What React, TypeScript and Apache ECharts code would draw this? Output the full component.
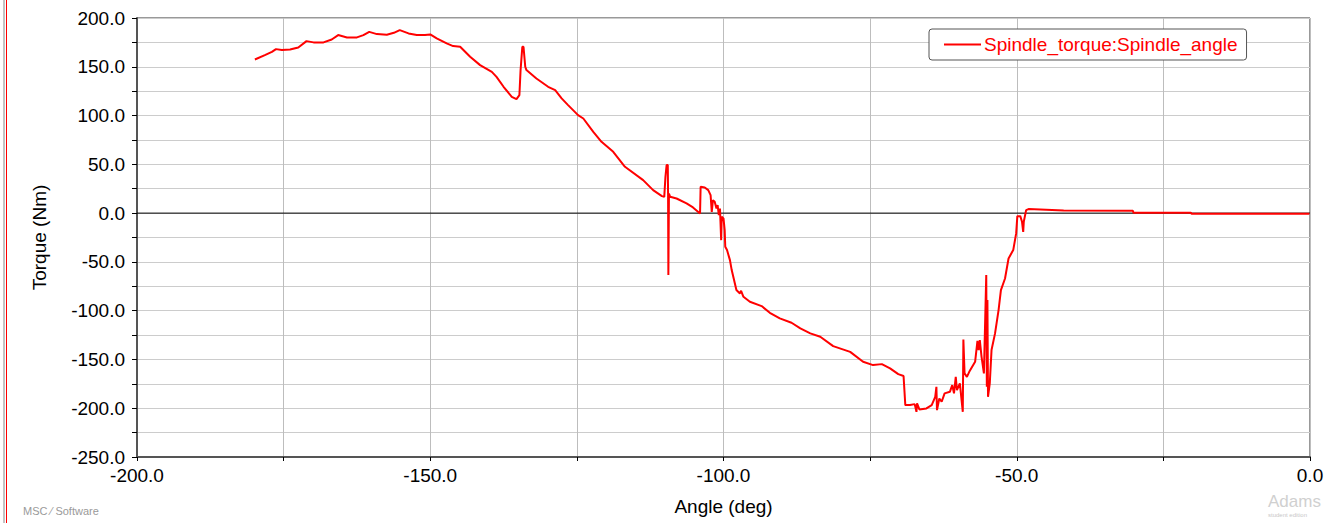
import React, { useEffect, useRef } from "react";
import * as echarts from "echarts";

const seriesName = "Spindle_torque:Spindle_angle";
const xTitle = "Angle (deg)";
const yTitle = "Torque (Nm)";

const angle = [
  -179.9, -178.2, -177.0, -176.3, -175.3, -173.9, -172.5, -171.1, -169.9, -168.2,
  -166.8, -165.7, -164.2, -162.5, -161.4, -160.4, -159.1, -157.4, -156.2, -155.2,
  -153.7, -152.3, -150.9, -150.0, -148.9, -147.2, -146.1, -144.9, -143.2, -141.5,
  -139.5, -138.7, -137.5, -136.1, -135.3, -134.8, -134.6, -134.3, -134.1, -133.8,
  -133.6, -131.9, -129.9, -128.7, -127.6, -126.5, -124.8, -123.9, -122.2, -120.8,
  -118.8, -116.8, -113.7, -112.0, -110.5, -110.1, -109.9, -109.7, -109.5, -109.45,
  -109.4, -109.3, -109.1, -108.0, -106.3, -105.2, -104.0, -103.9, -103.2, -102.6,
  -102.2, -102.0, -101.8, -101.5, -101.2, -101.0, -100.8, -100.6, -100.4, -100.3,
  -100.0, -99.8, -99.7, -99.4, -98.9, -98.6, -97.8, -97.2, -97.0, -96.6,
  -95.5, -93.5, -92.1, -90.4, -88.4, -86.9, -85.2, -83.5, -81.3, -78.4,
  -76.2, -74.5, -73.0, -71.6, -70.2, -69.3, -69.0, -68.2, -67.4, -67.1,
  -67.0, -66.6, -65.4, -64.5, -63.9, -63.7, -63.6, -63.2, -62.8, -62.3,
  -61.4, -61.0, -60.7, -60.4, -60.2, -59.7, -59.2, -59.1, -58.9, -58.5,
  -58.1, -57.1, -56.7, -56.5, -56.3, -56.0, -55.6, -55.2, -55.1, -55.0,
  -54.9, -54.6, -54.3, -53.7, -53.1, -52.7, -52.0, -51.4, -50.6, -50.1,
  -49.9, -49.4, -49.1, -48.9, -48.8, -48.4, -48.0, -45.0, -42.0, -30.2,
  -30.1, -20.3, -20.2, -0.1,
];

const torque = [
  157.5, 162, 165.3, 168.1, 167.1, 167.8, 169.8, 176.3, 175, 175,
  178, 182.5, 180.1, 180.1, 182.5, 185.8, 183.5, 182.8, 184.8, 187.6,
  184.2, 182.5, 182.5, 183.2, 179.1, 174, 171.2, 170.5, 160.2, 151.7,
  144.8, 139.7, 129.5, 119.2, 116.9, 121, 146.6, 170.5, 170.5, 150,
  146.6, 138, 129.5, 126, 117.6, 110.7, 100.4, 97, 83.3, 73.1,
  62.8, 47.5, 33.8, 23.6, 17.4, 16.7, 37.2, 49.2, 49.2, 20,
  -63.5, 20, 16.7, 15, 10, 5.8, -0.3, 27, 26.3, 23.6,
  18.5, 1.3, 13.3, 11.6, 4.8, 8.2, -2, 4.8, -27.7, -3.8,
  -5.4, -17.4, -34.5, -37.9, -48.2, -58.4, -78.9, -82.3, -79.6, -85.8,
  -90.9, -95.3, -102.2, -107.9, -112.4, -118.2, -123.3, -126.8, -136.3, -142.2,
  -152.4, -155.8, -154.8, -159.2, -165, -167, -196.8, -196.8, -195.8, -203.7,
  -195, -201.2, -200.2, -196.8, -188.3, -178, -202, -190, -193.4, -184.8,
  -183.2, -176.3, -184.8, -167.8, -181.4, -174.6, -203.7, -129.5, -164.3, -167.8,
  -162.7, -152.4, -130.9, -140.4, -130.2, -147.3, -164.3, -63.5, -178, -89.2,
  -188.3, -174.6, -140.4, -123.3, -99.4, -78.9, -67, -46.5, -37.9, -20.8,
  -3.1, -3.1, -8.9, -19.2, -8.9, 3.1, 4.1, 3.5, 2.6, 2.4,
  0.3, 0.3, -0.7, -0.7,
];

const xMin = -200;
const xMax = 0;
const yMin = -250;
const yMax = 200;

const FONT = "Liberation Sans, Arial, sans-serif";

export default function App() {
  const ref = useRef<HTMLDivElement>(null);

  useEffect(() => {
    if (!ref.current) return;
    const chart = echarts.init(ref.current, undefined, { renderer: "svg" });
    const data = angle.map((a, i) => [a, torque[i]]);

    chart.setOption({
      animation: false,
      backgroundColor: "#ffffff",
      textStyle: { fontFamily: FONT },
      grid: {
        left: 137,
        right: 18,
        top: 18,
        bottom: 66,
        show: true,
        borderColor: "#333333",
        borderWidth: 1,
        backgroundColor: "transparent",
      },
      legend: {
        data: [seriesName],
        left: 929,
        top: 29,
        icon: "rect",
        itemWidth: 37,
        itemHeight: 2,
        itemGap: 4,
        padding: [6, 9, 6, 15],
        borderColor: "#555555",
        borderWidth: 1,
        borderRadius: 3,
        backgroundColor: "#ffffff",
        textStyle: { color: "#ff0000", fontSize: 19, fontFamily: FONT, padding: [0, 0, 0, -2] },
      },
      xAxis: {
        type: "value",
        min: xMin,
        max: xMax,
        interval: 50,
        name: xTitle,
        nameLocation: "middle",
        nameGap: 40,
        nameTextStyle: { color: "#000", fontSize: 19, fontFamily: FONT },
        axisLine: { show: true, onZero: false, lineStyle: { color: "#555555", width: 2 } },
        axisTick: { show: true, length: 4, inside: false, lineStyle: { color: "#000" } },
        minorTick: { show: true, splitNumber: 2, length: 4, lineStyle: { color: "#000" } },
        splitLine: { show: true, lineStyle: { color: "#bdbdbd", width: 1 } },
        minorSplitLine: { show: true, lineStyle: { color: "#bdbdbd", width: 1 } },
        axisLabel: {
          color: "#000",
          fontSize: 19,
          fontFamily: FONT,
          margin: 9,
          formatter: (v: number) => v.toFixed(1),
        },
      },
      yAxis: {
        type: "value",
        min: yMin,
        max: yMax,
        interval: 50,
        name: yTitle,
        nameLocation: "middle",
        nameGap: 88,
        nameRotate: 90,
        nameTextStyle: { color: "#000", fontSize: 19, fontFamily: FONT },
        axisLine: { show: true, onZero: false, lineStyle: { color: "#555555", width: 2 } },
        axisTick: { show: true, length: 5, lineStyle: { color: "#000" } },
        minorTick: { show: true, splitNumber: 2, length: 5, lineStyle: { color: "#000" } },
        splitLine: { show: true, lineStyle: { color: "#cccccc", width: 1 } },
        minorSplitLine: { show: true, lineStyle: { color: "#cccccc", width: 1 } },
        axisLabel: {
          color: "#000",
          fontSize: 19,
          fontFamily: FONT,
          margin: 12,
          formatter: (v: number) => v.toFixed(1),
        },
      },
      series: [
        {
          name: "zero",
          type: "line",
          data: [
            [xMin, 0],
            [xMax, 0],
          ],
          showSymbol: false,
          silent: true,
          z: 1,
          lineStyle: { color: "#000000", width: 1 },
        },
        {
          name: seriesName,
          type: "line",
          data,
          showSymbol: false,
          z: 3,
          color: "#ff0000",
          lineStyle: { color: "#ff0000", width: 2 },
        },
      ],
      graphic: [
        { type: "line", shape: { x1: 4, y1: 0, x2: 4, y2: 523 }, style: { stroke: "#888888", lineWidth: 1 } },
        { type: "line", shape: { x1: 6.5, y1: 0, x2: 6.5, y2: 523 }, style: { stroke: "#ff0000", lineWidth: 1 } },
        {
          type: "text",
          left: 23,
          top: 505,
          style: { text: "MSC ⁄ Software", fill: "#9a9a9a", font: "11px " + FONT },
        },
        {
          type: "text",
          left: 1268,
          top: 493,
          style: { text: "Adams", fill: "#d0d0d0", font: "17px " + FONT },
        },
        {
          type: "text",
          left: 1268,
          top: 512,
          style: { text: "student edition", fill: "#c8c8c8", font: "6px " + FONT },
        },
      ],
    });

    return () => chart.dispose();
  }, []);

  return (
    <div
      ref={ref}
      style={{ position: "fixed", left: 0, top: 0, width: 1328, height: 523, background: "#fff" }}
    />
  );
}
